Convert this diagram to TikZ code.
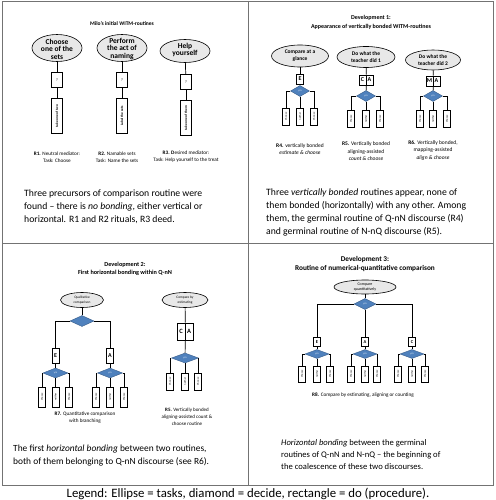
\documentclass[tikz,border=0pt]{standalone}
\usepackage{fontspec}
\setmainfont{Carlito}
\usetikzlibrary{shapes.geometric}
\definecolor{dblue}{HTML}{4F81BD}
\definecolor{dbord}{HTML}{385D8A}
\definecolor{ellfill}{HTML}{E8E8E8}
\newcommand{\fsz}[2]{\fontsize{#1}{#2}\selectfont}
\begin{document}
\begin{tikzpicture}[x=1pt,y=-1pt,
 ell/.style={draw, ellipse, fill=ellfill, inner sep=0, line width=0.6},
 etext/.style={align=center, inner sep=0},
 ebox/.style={draw, fill=white, inner sep=0, line width=0.6, font=\bfseries\fsz{6}{6}},
 dec/.style={draw=dbord, fill=dblue, diamond, inner sep=0, minimum width=20, minimum height=10, text=white, font=\fsz{2.5}{3}},
 leaf/.style={draw, fill=white, rotate=90, inner sep=0, minimum width=17, minimum height=7, line width=0.6, font=\fsz{2.6}{3}},
 tall/.style={draw, fill=white, rotate=90, inner sep=0, minimum width=35, minimum height=11, line width=0.6, font=\bfseries\fsz{3.5}{4}},
 conn/.style={line width=0.7},
 panelframe/.style={draw=black!55, line width=0.9},
 para/.style={anchor=north west, align=left, inner sep=0},
 capt/.style={align=center, inner sep=0, font=\fsz{5.2}{7}},
 ttl/.style={align=center, inner sep=0, font=\bfseries\fsz{6}{8.5}},
]
\useasboundingbox (0,0) rectangle (495,500);
\fill[white] (0,0) rectangle (495,500);
\draw[panelframe] (2,1) rectangle (493,485);
\draw[panelframe] (248,1) -- (248,485);
\draw[panelframe] (2,243) -- (493,243);

% ---------------- Panel 1
\node[ttl, font=\bfseries\fsz{5.5}{7}] (t1) at (122,24) {Milo's initial WITM-routines};
\node[ell, minimum width=50, minimum height=27] (e1) at (57,48) {};
\node[etext, font=\bfseries\fsz{7.5}{7.5}] (e1t) at (57,49) {Choose\\one of the\\sets};
\node[ell, minimum width=50, minimum height=27] (e2) at (122,48) {};
\node[etext, font=\bfseries\fsz{7.5}{7.5}] (e2t) at (122,49) {Perform\\the act of\\naming};
\node[ell, minimum width=50, minimum height=23] (e3) at (185,51) {};
\node[etext, font=\bfseries\fsz{7.5}{7.5}] (e3t) at (185,50) {Help\\yourself};
\node[ebox, minimum width=11, minimum height=15, font=\fsz{4}{4}] (q1) at (57,80) {?};
\node[ebox, minimum width=11, minimum height=15, font=\fsz{4}{4}] (q2) at (122,80) {?};
\node[ebox, minimum width=11, minimum height=15, font=\fsz{4}{4}] (q3) at (186,82) {?};
\node[tall] (r1) at (57,116) {take one of two};
\node[tall] (r2) at (122,116) {Label the sets};
\node[tall] (r3) at (186,118) {take one of them};
\draw[conn] (e1) -- (q1); \draw[conn] (q1) -- (r1);
\draw[conn] (e2) -- (q2); \draw[conn] (q2) -- (r2);
\draw[conn] (e3) -- (q3); \draw[conn] (q3) -- (r3);
\node[capt] (c1) at (57,157) {\textbf{R1.} Neutral mediator:\\Task: Choose};
\node[capt] (c2) at (117,157) {\textbf{R2.} Namable sets\\Task: Name the sets};
\node[capt] (c3) at (186,157) {\textbf{R3.} \textbf{D}esired mediator:\\Task: Help yourself to the treat};
\node[para, font=\fsz{9.7}{12.7}] (p1) at (24,190) {Three precursors of comparison routine were\\found – there is \textit{no bonding}, either vertical or\\horizontal. R1 and R2 rituals, R3 deed.};

% ---------------- Panel 2
\node[ttl] (t2) at (371,22.5) {Development 1:\\Appearance of vertically bonded WITM-routines};
\node[ell, minimum width=57, minimum height=22] (e4) at (300,56) {};
\node[etext, font=\bfseries\fsz{5.5}{7}] (e4t) at (300,56) {Compare at a\\glance};
\node[ell, minimum width=58, minimum height=21] (e5) at (366,57) {};
\node[etext, font=\bfseries\fsz{5.5}{7}] (e5t) at (366,57) {Do what the\\teacher did 1};
\node[ell, minimum width=55, minimum height=20] (e6) at (433,60) {};
\node[etext, font=\bfseries\fsz{5.5}{7}] (e6t) at (433,60) {Do what the\\teacher did 2};
\node[ebox, minimum width=7, minimum height=10] (E4) at (300,79) {E};
\node[ebox, minimum width=7, minimum height=10] (C5) at (362.5,80) {C};
\node[ebox, minimum width=7, minimum height=10] (A5) at (369.5,80) {A};
\node[ebox, minimum width=7, minimum height=10] (M6) at (429.5,81) {M};
\node[ebox, minimum width=7, minimum height=10] (A6) at (436.5,81) {A};
\node[dec, minimum width=19, minimum height=11] (d4) at (300,91) {y/n};
\node[dec, minimum width=19, minimum height=11] (d5) at (366,96) {y/n};
\node[dec, minimum width=19, minimum height=11] (d6) at (433,96) {y/n};
\node[leaf] (l4a) at (286,116.5) {Choose};
\node[leaf] (l4b) at (300,116.5) {neither};
\node[leaf] (l4c) at (314,116.5) {Choose};
\node[leaf] (l5a) at (351,119) {Choose};
\node[leaf] (l5b) at (366,119) {neither};
\node[leaf] (l5c) at (380,119) {Choose};
\node[leaf] (l6a) at (420,119) {Choose};
\node[leaf] (l6b) at (433,119) {neither};
\node[leaf] (l6c) at (447,119) {Choose};
\draw[conn] (e4) -- (E4); \draw[conn] (E4) -- (d4);
\draw[conn] (e5) -- (C5.north east); \draw[conn] (C5.south east) -- (d5);
\draw[conn] (e6) -- (M6.north east); \draw[conn] (M6.south east) -- (d6);
\draw[conn] (d4.west) -| (l4a); \draw[conn] (d4) -- (l4b); \draw[conn] (d4.east) -| (l4c);
\draw[conn] (d5.west) -| (l5a); \draw[conn] (d5) -- (l5b); \draw[conn] (d5.east) -| (l5c);
\draw[conn] (d6.west) -| (l6a); \draw[conn] (d6) -- (l6b); \draw[conn] (d6.east) -| (l6c);
\node[capt, font=\fsz{5.5}{7.5}] (c4) at (300,149) {\textbf{R4.} vertically bonded\\\textit{estimate \& choose}};
\node[capt, font=\fsz{5.5}{7.5}] (c5) at (366,151.5) {\textbf{R5.} Vertically bonded\\aligning-assisted\\\textit{count \& choose}};
\node[capt, font=\fsz{5.5}{7.5}] (c6) at (433,150.5) {\textbf{R6.} Vertically bonded,\\mapping-assisted\\\textit{align \& choose}};
\node[para, font=\fsz{9.7}{13}] (p2) at (266,188.5) {Three \textit{vertically bonded} routines appear, none of\\them bonded (horizontally) with any other. Among\\them, the germinal routine of Q-nN discourse (R4)\\and germinal routine of N-nQ discourse (R5).};

% ---------------- Panel 3
\node[ttl, font=\bfseries\fsz{6.2}{8.5}] (t3) at (125,269) {Development 2:\\First horizontal bonding within Q-nN};
\node[ell, minimum width=43, minimum height=15] (e7) at (82,300) {};
\node[etext, font=\fsz{3.5}{4.2}] (e7t) at (82,300) {Qualitative\\comparison};
\node[dec, minimum width=24, minimum height=11] (d7) at (82,321) {};
\node[ebox, minimum width=7, minimum height=15] (E7) at (55.5,355.5) {E};
\node[ebox, minimum width=7, minimum height=15] (A7) at (110,355.5) {A};
\node[dec, minimum width=25, minimum height=10] (d7e) at (55.5,373) {y/n};
\node[dec, minimum width=25, minimum height=10] (d7a) at (110,373) {y/n};
\node[leaf, minimum width=20] (l7a) at (42,397) {Choose};
\node[leaf, minimum width=20] (l7b) at (55.5,397) {neither};
\node[leaf, minimum width=20] (l7c) at (69,397) {Choose};
\node[leaf, minimum width=20] (l7d) at (96,397) {Choose};
\node[leaf, minimum width=20] (l7e) at (110,397) {neither};
\node[leaf, minimum width=20] (l7f) at (124,397) {Choose};
\draw[conn] (e7) -- (d7);
\draw[conn] (d7.west) -| (E7); \draw[conn] (d7.east) -| (A7);
\draw[conn] (E7) -- (d7e); \draw[conn] (A7) -- (d7a);
\draw[conn] (d7e.west) -| (l7a); \draw[conn] (d7e) -- (l7b); \draw[conn] (d7e.east) -| (l7c);
\draw[conn] (d7a.west) -| (l7d); \draw[conn] (d7a) -- (l7e); \draw[conn] (d7a.east) -| (l7f);
\node[capt, font=\fsz{5.2}{7}] (c7) at (85,417.5) {\textbf{R7.} Quantitative comparison\\with branching};
\node[ell, minimum width=46, minimum height=15] (e9) at (185,300) {};
\node[etext, font=\fsz{3.5}{4.2}] (e9t) at (185,300) {Compare by\\estimating};
\node[ebox, minimum width=8, minimum height=17, font=\bfseries\fsz{6.5}{6.5}] (C9) at (181,331.5) {C};
\node[ebox, minimum width=8, minimum height=17, font=\bfseries\fsz{6.5}{6.5}] (A9) at (189,331.5) {A};
\node[dec, minimum width=27, minimum height=10] (d9) at (185,358) {y/n};
\node[leaf] (l9a) at (170,381.5) {Choose};
\node[leaf] (l9b) at (185,381.5) {neither};
\node[leaf] (l9c) at (198,381.5) {Choose};
\draw[conn] (e9) -- (C9.north east); \draw[conn] (C9.south east) -- (d9);
\draw[conn] (d9.west) -| (l9a); \draw[conn] (d9) -- (l9b); \draw[conn] (d9.east) -| (l9c);
\node[capt, font=\fsz{5}{7}] (c9) at (187,417) {\textbf{R5.} Vertically bonded\\aligning-assisted count \&\\choose routine};
\node[para, font=\fsz{9.4}{13}] (p3) at (13,444.5) {The first \textit{horizontal bonding} between two routines,\\both of them belonging to Q-nN discourse (see R6).};

% ---------------- Panel 4
\node[ttl, font=\bfseries\fsz{7.3}{8.5}] (t4) at (365,264) {Development 3:\\Routine of numerical-quantitative comparison};
\node[ell, minimum width=62, minimum height=14] (e8) at (365,287) {};
\node[etext, font=\fsz{4}{4.6}] (e8t) at (365,287) {Compare\\quantitatively};
\node[dec, minimum width=22, minimum height=11] (d8) at (365,304) {y/n};
\node[ebox, minimum width=7, minimum height=9, font=\bfseries\fsz{4.5}{4.5}] (E8) at (317,342) {E};
\node[ebox, minimum width=7, minimum height=9, font=\bfseries\fsz{4.5}{4.5}] (A8) at (365,342) {A};
\node[ebox, minimum width=7, minimum height=9, font=\bfseries\fsz{4.5}{4.5}] (C8) at (412,342) {C};
\node[dec, minimum width=24, minimum height=9] (d8e) at (317,354) {y/n};
\node[dec, minimum width=24, minimum height=9] (d8a) at (365,354) {y/n};
\node[dec, minimum width=24, minimum height=9] (d8c) at (412,354) {y/n};
\node[leaf, minimum width=16] (l8a) at (302,374) {Choose};
\node[leaf, minimum width=16] (l8b) at (317,374) {neither};
\node[leaf, minimum width=16] (l8c) at (330,374) {Choose};
\node[leaf, minimum width=16] (l8d) at (351,374) {Choose};
\node[leaf, minimum width=16] (l8e) at (365,374) {neither};
\node[leaf, minimum width=16] (l8f) at (377,374) {Choose};
\node[leaf, minimum width=16] (l8g) at (398,374) {Choose};
\node[leaf, minimum width=16] (l8h) at (412,374) {neither};
\node[leaf, minimum width=16] (l8i) at (425,374) {Choose};
\draw[conn] (e8) -- (d8);
\draw[conn] (d8.west) -| (E8); \draw[conn] (d8) -- (A8); \draw[conn] (d8.east) -| (C8);
\draw[conn] (E8) -- (d8e); \draw[conn] (A8) -- (d8a); \draw[conn] (C8) -- (d8c);
\draw[conn] (d8e.west) -| (l8a); \draw[conn] (d8e) -- (l8b); \draw[conn] (d8e.east) -| (l8c);
\draw[conn] (d8a.west) -| (l8d); \draw[conn] (d8a) -- (l8e); \draw[conn] (d8a.east) -| (l8f);
\draw[conn] (d8c.west) -| (l8g); \draw[conn] (d8c) -- (l8h); \draw[conn] (d8c.east) -| (l8i);
\node[capt, font=\fsz{5.2}{7}] (c8) at (363,395) {\textbf{R8.} Compare by estimating, aligning or counting};
\node[para, font=\fsz{8.6}{12}] (p4) at (281,439) {\textit{Horizontal bonding} between the germinal\\routines of Q-nN and N-nQ – the beginning of\\the coalescence of these two discourses.};

% ---------------- Legend
\node[inner sep=0, font=\fsz{12.8}{14}] (leg) at (248,493.5) {Legend: Ellipse = tasks, diamond = decide, rectangle = do (procedure).};
\end{tikzpicture}
\end{document}
